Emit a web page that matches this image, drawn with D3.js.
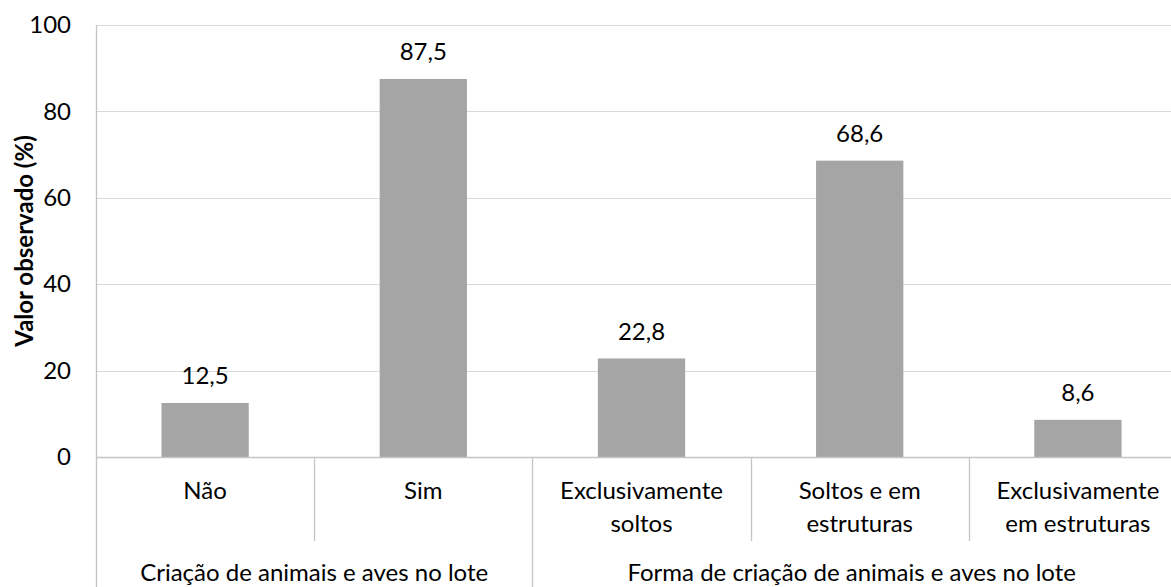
<!DOCTYPE html>
<html>
<head>
<meta charset="utf-8">
<script src="https://cdn.jsdelivr.net/npm/d3@7"></script>
<style>
  html, body { margin: 0; padding: 0; background: #fff; }
  svg { display: block; }
  text { font-family: Lato, "Open Sans", sans-serif; fill: #000; }
</style>
</head>
<body>
<svg id="chart" width="1171" height="587"></svg>
<script>
// Categories (line breaks mark where a label wraps)
const categories = ["Não", "Sim", "Exclusivamente\nsoltos", "Soltos e em\nestruturas", "Exclusivamente\nem estruturas"];
const values = [12.5, 87.5, 22.8, 68.6, 8.6];
const groupNames = ["Criação de animais e aves no lote", "Forma de criação de animais e aves no lote"];
const groupSizes = [2, 3];
const yTicks = [0, 20, 40, 60, 80, 100];
const yTitle = "Valor observado (%)";

const W = 1171, H = 587;
const plotLeft = 96, plotTop = 25, plotBottom = 457, step = 218.2;
const plotRight = plotLeft + step * categories.length;   // plot runs past the right edge
const fontSize = 24;

const svg = d3.select("#chart");

const x = d3.scaleBand().domain(categories).range([plotLeft, plotRight]).padding(0);
const y = d3.scaleLinear().domain([0, 100]).range([plotBottom, plotTop]);
const fmt = v => d3.format(".1f")(v).replace(".", ",");

// horizontal gridlines
svg.append("g")
  .selectAll("line")
  .data(yTicks.filter(t => t > 0))
  .join("line")
  .attr("x1", plotLeft).attr("x2", W)
  .attr("y1", d => Math.round(y(d)) + 0.5).attr("y2", d => Math.round(y(d)) + 0.5)
  .attr("stroke", "#d9d9d9").attr("stroke-width", 1);

// bars
const barW = x.bandwidth() * 0.4;
svg.append("g")
  .selectAll("rect")
  .data(values)
  .join("rect")
  .attr("x", (d, i) => x(categories[i]) + (x.bandwidth() - barW) / 2)
  .attr("y", d => y(d))
  .attr("width", barW)
  .attr("height", d => y(0) - y(d))
  .attr("fill", "#a5a5a5");

// value labels
svg.append("g")
  .selectAll("text")
  .data(values)
  .join("text")
  .attr("x", (d, i) => x(categories[i]) + x.bandwidth() / 2)
  .attr("y", d => y(d) - 19)
  .attr("text-anchor", "middle")
  .attr("font-size", fontSize)
  .text(d => fmt(d));

// y axis tick labels
const yAxis = d3.axisLeft(y).tickValues(yTicks).tickSize(0).tickPadding(0)
  .tickFormat(d3.format("d"));
const gy = svg.append("g").attr("transform", `translate(71,0)`).call(yAxis);
gy.select(".domain").remove();
gy.selectAll("text")
  .attr("font-size", fontSize)
  .attr("font-family", "Lato, 'Open Sans', sans-serif")
  .attr("fill", "#000");

// zero line
const axisColor = "#c4c4c4";
svg.append("line")
  .attr("x1", plotLeft).attr("x2", W)
  .attr("y1", plotBottom + 0.5).attr("y2", plotBottom + 0.5)
  .attr("stroke", axisColor).attr("stroke-width", 1.5);

// category dividers: short ones inside a group, long ones at group edges
const groupEdges = [0];
groupSizes.forEach((s, i) => groupEdges.push(groupEdges[i] + s));
const divs = d3.range(categories.length + 1).map(i => ({
  x: plotLeft + i * x.step(),
  long: groupEdges.includes(i)
}));
svg.append("g")
  .selectAll("line")
  .data(divs)
  .join("line")
  .attr("x1", d => Math.round(d.x) + 0.5).attr("x2", d => Math.round(d.x) + 0.5)
  .attr("y1", d => d.long && d.x === plotLeft ? plotTop : plotBottom)
  .attr("y2", d => d.long ? H : 541)
  .attr("stroke", axisColor).attr("stroke-width", 1.3);

// category labels
const catG = svg.append("g")
  .selectAll("text")
  .data(categories)
  .join("text")
  .attr("x", d => x(d) + x.bandwidth() / 2)
  .attr("y", 499)
  .attr("text-anchor", "middle")
  .attr("font-size", fontSize);
catG.selectAll("tspan")
  .data(d => d.split("\n"))
  .join("tspan")
  .attr("x", function () { return this.parentNode.getAttribute("x"); })
  .attr("dy", (d, i) => i === 0 ? 0 : 33)
  .text(d => d);

// group labels, centred on the visible part of each group
svg.append("g")
  .selectAll("text")
  .data(groupNames)
  .join("text")
  .attr("x", (d, i) => {
    const x0 = plotLeft + groupEdges[i] * x.step();
    const x1 = Math.min(W, plotLeft + groupEdges[i + 1] * x.step());
    return (x0 + x1) / 2;
  })
  .attr("y", 581)
  .attr("text-anchor", "middle")
  .attr("font-size", fontSize)
  .text(d => d);

// y axis title
svg.append("text")
  .attr("transform", `translate(33,${(plotTop + plotBottom) / 2}) rotate(-90)`)
  .attr("text-anchor", "middle")
  .attr("font-size", fontSize)
  .attr("font-weight", "bold")
  .text(yTitle);
</script>
</body>
</html>
